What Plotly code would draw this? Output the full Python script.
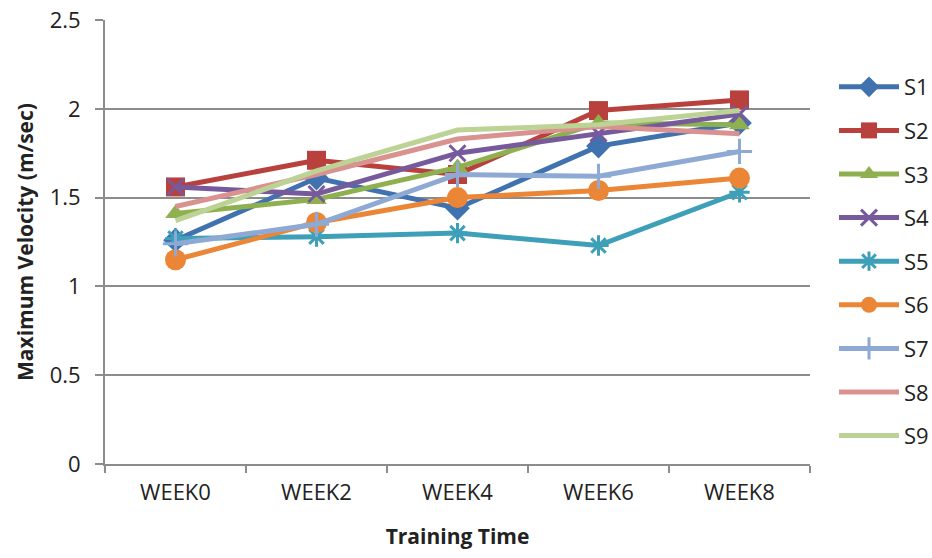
import plotly.graph_objects as go

weeks = ["WEEK0", "WEEK2", "WEEK4", "WEEK6", "WEEK8"]
S1 = [1.26, 1.61, 1.44, 1.79, 1.92]
S2 = [1.56, 1.71, 1.63, 1.99, 2.05]
S3 = [1.41, 1.49, 1.67, 1.92, 1.91]
S4 = [1.56, 1.52, 1.75, 1.86, 1.97]
S5 = [1.27, 1.28, 1.30, 1.23, 1.53]
S6 = [1.15, 1.36, 1.50, 1.54, 1.61]
S7 = [1.24, 1.35, 1.63, 1.62, 1.76]
S8 = [1.45, 1.63, 1.83, 1.90, 1.86]
S9 = [1.37, 1.65, 1.88, 1.91, 1.99]

series = [
    ("S1", S1, "#4172B0", "diamond", 19),
    ("S2", S2, "#B8413E", "square", 19),
    ("S3", S3, "#8FB04E", "triangle-up", 18),
    ("S4", S4, "#775A9C", "x-thin-open", 16),
    ("S5", S5, "#3E9FB8", "asterisk-open", 17),
    ("S6", S6, "#EB8637", "circle", 21),
    ("S7", S7, "#8EAAD4", "cross-thin-open", 18),
    ("S8", S8, "#D99290", None, 0),
    ("S9", S9, "#BCD395", None, 0),
]

FONT = "Open Sans"
fig = go.Figure()
for name, vals, color, sym, size in series:
    if sym:
        fig.add_trace(go.Scatter(
            x=weeks, y=vals, name=name, mode="lines+markers", legendgroup=name,
            line=dict(color=color, width=5),
            marker=dict(symbol=sym, size=size, color=color,
                        line=dict(color=color, width=3 if "open" in sym else 0)),
        ))
    else:
        fig.add_trace(go.Scatter(
            x=weeks, y=vals, name=name, mode="lines", legendgroup=name,
            line=dict(color=color, width=5),
        ))

grid = "#8C8C8C"
fig.update_layout(
    width=932, height=558,
    margin=dict(l=105, r=122, t=20, b=94, autoexpand=False),
    paper_bgcolor="white", plot_bgcolor="white",
    font=dict(family=FONT, size=22, color="#222222"),
    showlegend=True,
    legend=dict(xref="container", yref="container",
                x=834 / 932, xanchor="left", y=1 - 66 / 558, yanchor="top",
                tracegroupgap=12, itemwidth=60, maxheight=520,
                font=dict(family=FONT, size=22, color="#222222")),
    xaxis=dict(
        type="category", range=[-0.5, 4.5], showgrid=False,
        showline=True, linecolor=grid, linewidth=2,
        ticks="outside", tickson="boundaries", ticklen=7, tickcolor=grid, tickwidth=2,
        tickfont=dict(size=22), ticklabelstandoff=8,
        title=dict(text="<b>Training Time</b>", font=dict(size=21), standoff=24),
    ),
    yaxis=dict(
        range=[0, 2.5], dtick=0.5, showgrid=True, gridcolor=grid, gridwidth=2,
        zeroline=False, showline=True, linecolor=grid, linewidth=2,
        ticks="outside", ticklen=8, tickcolor=grid, tickwidth=2,
        tickfont=dict(size=22), ticklabelstandoff=10,
        title=dict(text="<b>Maximum Velocity (m/sec)</b>", font=dict(size=21), standoff=10),
    ),
)

fig.write_html("out.html")
